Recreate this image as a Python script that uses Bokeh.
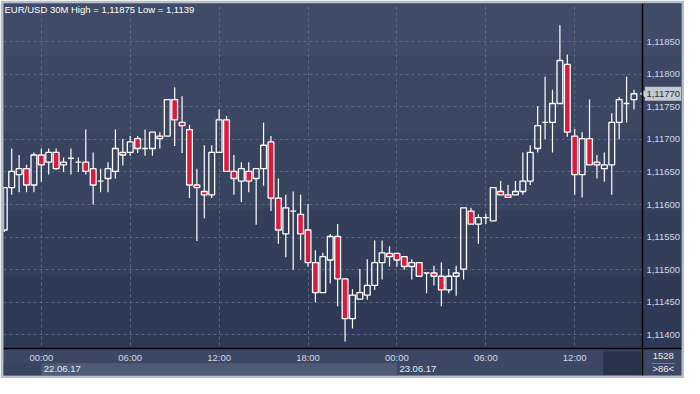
import math
from bokeh.plotting import figure
from bokeh.models import (Range1d, FixedTicker, CustomJSTickFormatter, BoxAnnotation,
                          Label, ColumnDataSource)
from bokeh.embed import file_html
from bokeh.resources import INLINE

# ---------------- data (EUR/USD, 30 min candles, 21.06 21:30 .. 23.06 16:00) ----------------
opens = [1.11561, 1.11626, 1.11646, 1.11655, 1.11630, 1.11676, 1.11665, 1.11680, 1.11661, 1.11671,
         1.11665, 1.11665, 1.11655, 1.11636, 1.11640, 1.11651, 1.11680, 1.11680, 1.11701, 1.11686,
         1.11686, 1.11705, 1.11705, 1.11761, 1.11726, 1.11715, 1.11630, 1.11620, 1.11615, 1.11680,
         1.11730, 1.11651, 1.11636, 1.11651, 1.11640, 1.11655, 1.11696, 1.11610, 1.11555, 1.11590,
         1.11585, 1.11561, 1.11511, 1.11465, 1.11515, 1.11551, 1.11486, 1.11425, 1.11455, 1.11461,
         1.11476, 1.11511, 1.11525, 1.11525, 1.11520, 1.11505, 1.11511, 1.11495, 1.11495, 1.11490,
         1.11469, 1.11490, 1.11501, 1.11590, 1.11570, 1.11580, 1.11575, 1.11620, 1.11615, 1.11615,
         1.11620, 1.11636, 1.11686, 1.11726, 1.11726, 1.11755, 1.11815, 1.11705, 1.11646, 1.11701,
         1.11665, 1.11655, 1.11661, 1.11726, 1.11755, 1.11761]
highs = [1.11626, 1.11686, 1.11676, 1.11661, 1.11680, 1.11686, 1.11686, 1.11686, 1.11672, 1.11686,
         1.11672, 1.11715, 1.11680, 1.11655, 1.11665, 1.11715, 1.11701, 1.11705, 1.11705, 1.11715,
         1.11711, 1.11711, 1.11761, 1.11780, 1.11766, 1.11722, 1.11655, 1.11691, 1.11691, 1.11746,
         1.11736, 1.11676, 1.11665, 1.11665, 1.11655, 1.11726, 1.11705, 1.11640, 1.11615, 1.11620,
         1.11615, 1.11601, 1.11530, 1.11526, 1.11555, 1.11570, 1.11486, 1.11470, 1.11501, 1.11516,
         1.11545, 1.11545, 1.11536, 1.11525, 1.11520, 1.11516, 1.11511, 1.11495, 1.11506, 1.11511,
         1.11501, 1.11506, 1.11595, 1.11595, 1.11585, 1.11586, 1.11626, 1.11636, 1.11630, 1.11636,
         1.11680, 1.11691, 1.11751, 1.11796, 1.11776, 1.11875, 1.11830, 1.11716, 1.11711, 1.11761,
         1.11676, 1.11680, 1.11740, 1.11765, 1.11796, 1.11776]
lows = [1.11558, 1.11615, 1.11619, 1.11619, 1.11619, 1.11635, 1.11646, 1.11653, 1.11650, 1.11646,
        1.11650, 1.11646, 1.11600, 1.11619, 1.11619, 1.11640, 1.11660, 1.11675, 1.11679, 1.11675,
        1.11675, 1.11686, 1.11705, 1.11690, 1.11679, 1.11610, 1.11544, 1.11579, 1.11610, 1.11680,
        1.11651, 1.11615, 1.11604, 1.11619, 1.11569, 1.11629, 1.11590, 1.11540, 1.11519, 1.11500,
        1.11515, 1.11505, 1.11450, 1.11465, 1.11479, 1.11444, 1.11390, 1.11410, 1.11455, 1.11454,
        1.11469, 1.11485, 1.11505, 1.11505, 1.11500, 1.11485, 1.11490, 1.11464, 1.11476, 1.11444,
        1.11464, 1.11460, 1.11485, 1.11570, 1.11540, 1.11570, 1.11575, 1.11615, 1.11611, 1.11615,
        1.11615, 1.11630, 1.11680, 1.11700, 1.11680, 1.11755, 1.11704, 1.11615, 1.11611, 1.11661,
        1.11640, 1.11635, 1.11615, 1.11700, 1.11726, 1.11746]
closes = [1.11626, 1.11651, 1.11655, 1.11630, 1.11676, 1.11661, 1.11680, 1.11655, 1.11665, 1.11671,
          1.11665, 1.11651, 1.11630, 1.11636, 1.11655, 1.11686, 1.11676, 1.11696, 1.11686, 1.11686,
          1.11711, 1.11701, 1.11761, 1.11730, 1.11721, 1.11630, 1.11626, 1.11615, 1.11680, 1.11730,
          1.11651, 1.11640, 1.11655, 1.11636, 1.11655, 1.11691, 1.11610, 1.11561, 1.11595, 1.11590,
          1.11555, 1.11511, 1.11465, 1.11520, 1.11551, 1.11486, 1.11425, 1.11461, 1.11465, 1.11476,
          1.11511, 1.11526, 1.11520, 1.11515, 1.11505, 1.11511, 1.11490, 1.11495, 1.11490, 1.11469,
          1.11490, 1.11495, 1.11595, 1.11570, 1.11580, 1.11580, 1.11626, 1.11615, 1.11611, 1.11620,
          1.11636, 1.11680, 1.11721, 1.11726, 1.11755, 1.11821, 1.11711, 1.11646, 1.11701, 1.11661,
          1.11661, 1.11661, 1.11726, 1.11761, 1.11755, 1.11770]

time_tick_index = [5, 17, 29, 41, 53, 65, 77]
time_tick_labels = ["00:00", "06:00", "12:00", "18:00", "00:00", "06:00", "12:00"]
date_index = [5, 53]
date_labels = ["22.06.17", "23.06.17"]
price_ticks = [1.1140, 1.1145, 1.1150, 1.1155, 1.1160, 1.1165, 1.1170, 1.1175, 1.1180, 1.1185]
title_text = "EUR/USD 30M High = 1,11875 Low = 1,1139"
last_price = 1.11770
last_price_text = "1,11770"
bar_total_text = "1528"
bar_visible_text = ">86<"

# ---------------- layout / style ----------------
W, H = 684, 378
EDGE_W = 3
FW, FH = W - 2 * EDGE_W, H - 2 * EDGE_W
FONT = "Liberation Sans"
FS = "9.5px"
RED = "#dc1a3c"
GRID = "#5b6985"
EDGE = "#b5bfcc"
LABEL = "#d0d8e4"
TAG = "#c4c9d2"

X0, X1 = -0.105, 91.415          # frame extent in candle units
Y0, Y1 = 1.113378, 1.119084      # frame extent in price units
XAX = 86.14                      # price-scale separator
YAX = 1.113790                   # time-scale separator
PX = (Y1 - Y0) / FH              # price per pixel
CX = (X1 - X0) / FW              # candles per pixel

p = figure(width=W, height=H, output_backend="svg", toolbar_location=None,
           x_range=Range1d(X0, X1), y_range=Range1d(Y0, Y1),
           y_axis_location="right", min_border=EDGE_W)
p.min_border_left = p.min_border_right = p.min_border_top = p.min_border_bottom = EDGE_W
p.background_fill_color = "#35415c"
p.border_fill_color = EDGE
p.outline_line_color = None

# gradient-like background bands (below the grid)
band_edges = [Y1 + 0.001, 1.118275, 1.11710, 1.11592, 1.11491, YAX]
band_colors = ["#3f4b67", "#3b4763", "#37435f", "#333f5a", "#2e3955"]
for i, col in enumerate(band_colors):
    p.add_layout(BoxAnnotation(top=band_edges[i], bottom=band_edges[i + 1], fill_color=col,
                               fill_alpha=1, line_alpha=0, level="image"))

# grids
p.xgrid.grid_line_color = GRID
p.xgrid.grid_line_dash = "3 3"
p.ygrid.grid_line_color = GRID
p.ygrid.grid_line_dash = "3 3"

# covers for the scale areas (above the grid)
for i, col in enumerate(band_colors):
    p.add_layout(BoxAnnotation(top=band_edges[i], bottom=band_edges[i + 1], left=XAX,
                               fill_color=col, fill_alpha=1, line_alpha=0, level="underlay"))
p.add_layout(BoxAnnotation(top=YAX, fill_color="#3c4863", fill_alpha=1, line_alpha=0,
                           level="underlay"))
p.add_layout(BoxAnnotation(top=YAX - 14.5 * PX, right=date_index[0], fill_color="#38445f",
                           fill_alpha=1, line_alpha=0, level="underlay"))
p.add_layout(BoxAnnotation(top=YAX - 14.5 * PX, left=date_index[0], right=date_index[1],
                           fill_color="#4f5b75", fill_alpha=1, line_alpha=0, level="underlay"))
p.add_layout(BoxAnnotation(top=YAX - 3 * PX, bottom=YAX - 26 * PX, left=80.87, right=85.88,
                           fill_color="#28324b", fill_alpha=1, line_color="#20283d",
                           line_width=1, level="underlay"))
p.add_layout(BoxAnnotation(top=YAX - 14.6 * PX, bottom=YAX - 15.4 * PX, left=87.4, right=90.5,
                           fill_color="#8a96aa", fill_alpha=1, line_alpha=0, level="underlay"))

# axes (fixed inside the frame)
p.xaxis.fixed_location = YAX
p.xaxis.ticker = FixedTicker(ticks=time_tick_index)
p.xaxis.major_label_overrides = {k: v for k, v in zip(time_tick_index, time_tick_labels)}
p.xaxis.major_label_standoff = 3
p.yaxis.fixed_location = XAX
p.yaxis.ticker = FixedTicker(ticks=price_ticks)
p.yaxis.formatter = CustomJSTickFormatter(code="return tick.toFixed(5).replace('.', ',');")
p.yaxis.major_label_standoff = 4

for ax in (p.xaxis[0], p.yaxis[0]):
    ax.axis_line_color = "black"
    ax.axis_line_width = 1.5
    ax.major_tick_line_color = None
    ax.minor_tick_line_color = None
    ax.major_tick_out = 0
    ax.major_tick_in = 0
    ax.major_label_text_font = FONT
    ax.major_label_text_font_size = FS
    ax.major_label_text_color = LABEL

# date labels of the time scale
for di, dl in zip(date_index, date_labels):
    p.add_layout(Label(x=di, y=YAX - 20.5 * PX, x_offset=2.5, text=dl, text_font=FONT,
                       text_font_size=FS, text_color="#e6ebf2", text_baseline="middle"))

# candles
idx = list(range(len(opens)))
tops = [max(o, c) for o, c in zip(opens, closes)]
bots = [min(o, c) for o, c in zip(opens, closes)]
fills = [RED if c < o else "#000000" for o, c in zip(opens, closes)]
alphas = [1.0 if c < o else 0.0 for o, c in zip(opens, closes)]
src = ColumnDataSource(dict(x=idx, high=highs, low=lows, top=tops, bottom=bots,
                            fill=fills, alpha=alphas))
p.segment(x0="x", y0="high", x1="x", y1="top", source=src, line_color="white", line_width=1.2)
p.segment(x0="x", y0="bottom", x1="x", y1="low", source=src, line_color="white", line_width=1.2)
p.vbar(x="x", width=0.78, top="top", bottom="bottom", source=src, fill_color="fill",
       fill_alpha="alpha", line_color="white", line_width=1.3)

# last price tag
p.add_layout(BoxAnnotation(left=XAX + 2.5 * CX, right=X1, top=last_price + 7 * PX,
                           bottom=last_price - 7 * PX, fill_color=TAG, fill_alpha=1,
                           line_alpha=0))
p.scatter(x=[XAX + 2.2 * CX], y=[last_price], marker="triangle", size=8, angle=math.pi / 2,
          fill_color=TAG, line_color=TAG)
p.add_layout(Label(x=XAX + 4 * CX, y=last_price, text=last_price_text,
                   text_font=FONT, text_font_size=FS, text_color="#26304a",
                   text_baseline="middle"))

# title
p.add_layout(Label(x=1, y=FH - 6, x_units="screen", y_units="screen", text=title_text,
                   text_font=FONT, text_font_size=FS, text_color="white",
                   text_baseline="middle"))

# bottom-right counters
p.add_layout(Label(x=88.95, y=YAX - 7.7 * PX, text=bar_total_text, text_font=FONT,
                   text_font_size=FS, text_color="#e6ebf2", text_align="center",
                   text_baseline="middle"))
p.add_layout(Label(x=88.95, y=YAX - 20.3 * PX, text=bar_visible_text, text_font=FONT,
                   text_font_size=FS, text_color="#e6ebf2", text_align="center",
                   text_baseline="middle"))

open("out.html", "w").write(file_html(p, INLINE))
